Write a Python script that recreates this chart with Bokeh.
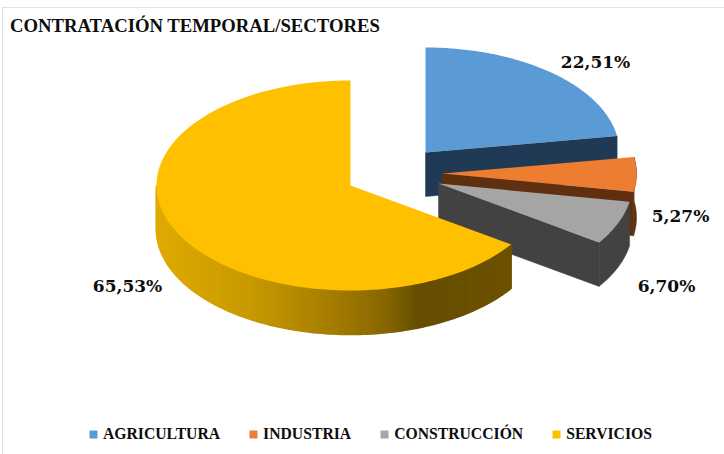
import numpy as np
from bokeh.embed import file_html
from bokeh.resources import INLINE
from bokeh.plotting import figure
from bokeh.models import Range1d, Legend, LegendItem, ColumnDataSource
from bokeh.core.properties import value

categories = ["AGRICULTURA", "INDUSTRIA", "CONSTRUCCIÓN", "SERVICIOS"]
shares = [22.51, 5.27, 6.70, 65.53]
labels = ["22,51%", "5,27%", "6,70%", "65,53%"]
title_text = "CONTRATACIÓN TEMPORAL/SECTORES"

# Styling and layout (image-pixel coordinates)
top_colors = ["#5b9bd5", "#ed7d31", "#a5a5a5", "#ffc000"]
side_colors = ["#203a55", "#5f2f10", "#424242", None]
apex_x = [425, 442, 438, 350]
apex_y = [152, 173, 183, 185]
label_x = [595, 680, 666, 127]
label_y = [61, 215, 285, 285]
RX, RY, DEPTH = 194, 105, 44
gold_stops = [(155, (224, 171, 0)), (250, (200, 154, 0)), (330, (166, 125, 0)),
              (385, (135, 103, 0)), (417, (102, 78, 0)), (515, (110, 82, 0))]

W, H, TOP = 724, 454, 35
p = figure(width=W, height=H, output_backend="svg", toolbar_location=None,
           x_range=Range1d(0, W), y_range=Range1d(H, TOP),
           min_border=0, min_border_top=TOP, min_border_bottom=0, min_border_left=0, min_border_right=0,
           outline_line_color=None, background_fill_color=None, border_fill_color=None)
# faint frame along the chart's top and left edges, behind a transparent plot
p.styles = {
    "background-color": "white",
    "background-image": "linear-gradient(#e2e2e2,#e2e2e2),linear-gradient(#e2e2e2,#e2e2e2)",
    "background-size": "722px 1px,1px 447px",
    "background-position": "2px 7px,2px 7px",
    "background-repeat": "no-repeat",
}
p.axis.visible = False
p.grid.visible = False
p.title.text = title_text
p.title.text_font = "Liberation Serif"
p.title.text_font_style = "bold"
p.title.text_font_size = "18.7px"
p.title.text_color = "#0d0d0d"
p.title.align = "left"
p.title.offset = 9.5
p.title.standoff = 0


def arc(cx, cy, a, b, n=60):
    t = np.radians(np.linspace(a, b, n))
    return cx + RX * np.sin(t), cy - RY * np.cos(t)


edges = np.concatenate([[0], np.cumsum(shares)]) / sum(shares) * 360
top_renderers = []
for i in range(len(shares)):
    a, b = edges[i], edges[i + 1]
    cx, cy = apex_x[i], apex_y[i]
    if side_colors[i] is not None:
        # radial cut face at the slice's clockwise end
        ex, ey = arc(cx, cy, b, b, 1)
        p.patch([cx, ex[0], ex[0], cx], [cy, ey[0], ey[0] + DEPTH, cy + DEPTH],
                fill_color=side_colors[i], line_color=side_colors[i], line_width=0.5)
        # outer rim, where it faces the viewer
        if b > 90:
            rx_, ry_ = arc(cx, cy, max(a, 80), b, 30)
            p.patch(np.r_[rx_, rx_[::-1]], np.r_[ry_, ry_[::-1] + DEPTH],
                    fill_color=side_colors[i], line_color=side_colors[i], line_width=0.5)
    else:
        # shaded outer rim drawn as narrow strips
        angles = np.linspace(a, 270, 130)
        xs, ys, cols = [], [], []
        stop_x = [s[0] for s in gold_stops]
        for t0, t1 in zip(angles[:-1], angles[1:]):
            ax, ay = arc(cx, cy, t0, t1, 2)
            xs.append([ax[0], ax[1], ax[1], ax[0]])
            ys.append([ay[0], ay[1], ay[1] + DEPTH, ay[0] + DEPTH])
            rgb = [int(np.interp(ax.mean(), stop_x, [s[1][k] for s in gold_stops])) for k in range(3)]
            cols.append("#%02x%02x%02x" % tuple(rgb))
        src = ColumnDataSource(dict(xs=xs, ys=ys, c=cols))
        p.patches("xs", "ys", source=src, fill_color="c", line_color="c", line_width=1.6)
    ax, ay = arc(cx, cy, a, b, 120)
    r = p.patch(np.r_[cx, ax], np.r_[cy, ay], fill_color=top_colors[i], line_color=None)
    top_renderers.append(r)

p.text(label_x, label_y, text=labels, text_font=value("DejaVu Serif"), text_font_style="bold",
       text_font_size="17px", text_color="#0d0d0d", text_align="center", text_baseline="middle")

legend = Legend(items=[LegendItem(label=c, renderers=[r]) for c, r in zip(categories, top_renderers)],
                orientation="horizontal", location=(88, 11), spacing=28, glyph_width=10, glyph_height=10,
                label_standoff=5, padding=0, margin=0, border_line_color=None, background_fill_alpha=0,
                label_text_font="Liberation Serif", label_text_font_style="bold",
                label_text_font_size="15.7px", label_text_color="#0d0d0d")
p.add_layout(legend, "center")

open("out.html", "w").write(file_html(p, INLINE))
